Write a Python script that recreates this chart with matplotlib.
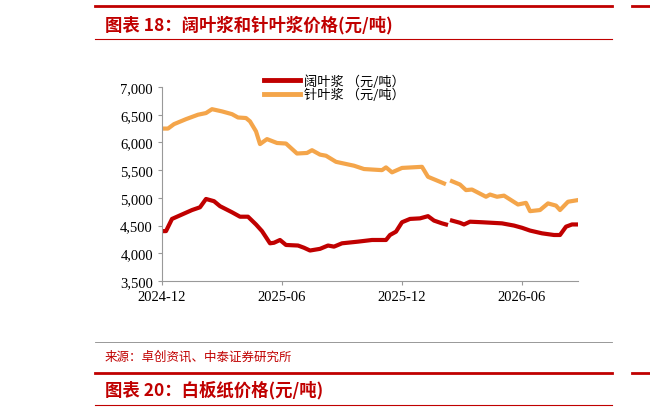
import numpy as np
import matplotlib.pyplot as plt
from matplotlib.lines import Line2D

plt.rcParams['font.family'] = ['Noto Sans CJK SC', 'DejaVu Sans']

# 月份偏移 (0 = 2024-12) 与价格
hw1_x = [0, 0.2, 0.5, 1.0, 1.5, 1.9, 2.2, 2.6, 2.9, 3.5, 3.9, 4.3, 4.7, 5.0, 5.4, 5.6, 5.9, 6.2, 6.8, 7.1,
         7.4, 7.9, 8.3, 8.6, 9.0, 9.8, 10.5, 11.2, 11.4, 11.7, 12.0, 12.4, 12.9, 13.3, 13.6, 14.0, 14.2]
hw1_y = [4400, 4400, 4620, 4700, 4780, 4830, 4980, 4940, 4850, 4740, 4660, 4660, 4520, 4400, 4180, 4190, 4240, 4150, 4140, 4100,
         4050, 4080, 4140, 4120, 4180, 4210, 4240, 4240, 4330, 4390, 4560, 4620, 4630, 4670, 4590, 4540, 4520]
hw2_x = [14.5, 14.9, 15.1, 15.4, 16.0, 17.0, 17.6, 18.0, 18.4, 19.0, 19.6, 19.9, 20.2, 20.5, 20.8]
hw2_y = [4590, 4550, 4520, 4570, 4560, 4540, 4500, 4460, 4410, 4360, 4330, 4330, 4480, 4520, 4520]

sw1_x = [0, 0.3, 0.6, 1.2, 1.8, 2.2, 2.5, 3.0, 3.5, 3.8, 4.2, 4.4, 4.7, 4.9, 5.25, 5.75, 6.2, 6.75, 7.25, 7.5,
         7.9, 8.2, 8.7, 9.6, 10.1, 11.0, 11.2, 11.5, 12.0, 12.5, 13.0, 13.3, 14.1]
sw1_y = [6250, 6250, 6330, 6420, 6500, 6530, 6600, 6560, 6510, 6450, 6440, 6380, 6200, 5970, 6060, 5990, 5980, 5800, 5810, 5860,
         5780, 5760, 5650, 5580, 5520, 5500, 5550, 5460, 5540, 5550, 5560, 5380, 5260]
sw2_x = [14.5, 14.9, 15.2, 15.5, 16.2, 16.4, 16.75, 17.1, 17.8, 18.2, 18.4, 18.9, 19.3, 19.7, 19.9, 20.3, 20.8]
sw2_y = [5300, 5240, 5140, 5150, 5020, 5060, 5020, 5040, 4880, 4910, 4760, 4780, 4900, 4860, 4780, 4930, 4960]

tick_pos = [0, 6, 12, 18]
tick_labels = ['2024-12', '2025-06', '2025-12', '2026-06']

red = '#C00000'
orange = '#F4A54A'

fig = plt.figure(figsize=(6.5, 4.14), dpi=100)
ax = fig.add_axes([162/650, 1 - 282/414, (578-162)/650, (282-88)/414])

ax.plot(hw1_x, hw1_y, color=red, lw=3)
ax.plot(hw2_x, hw2_y, color=red, lw=3)
ax.plot(sw1_x, sw1_y, color=orange, lw=3)
ax.plot(sw2_x, sw2_y, color=orange, lw=3)

ax.set_xlim(0, 20.8)
ax.set_ylim(3500, 7000)
ax.set_yticks(range(3500, 7001, 500))
ax.set_yticklabels([f'{v:,}' for v in range(3500, 7001, 500)], family='Liberation Serif', fontsize=10.5)
ax.set_xticks(tick_pos)
ax.set_xticklabels(tick_labels, family='Liberation Serif', fontsize=10.5)
for s in ['top', 'right']:
    ax.spines[s].set_visible(False)
ax.spines['left'].set_color('#999999')
ax.spines['bottom'].set_color('#999999')
ax.tick_params(length=3, color='#999999')

handles = [Line2D([], [], color=red, lw=3.5), Line2D([], [], color=orange, lw=3.5)]
leg = ax.legend(handles, ['阔叶浆 （元/吨）', '针叶浆 （元/吨）'], loc='upper left', bbox_to_anchor=(0.23, 1.1),
                frameon=False, fontsize=9.5, handlelength=2.7, labelspacing=0.0, borderpad=0, handletextpad=0.3)

# 报告版式
fig.add_artist(Line2D([95/650, 612/650], [1 - 7/414] * 2, color=red, lw=2))
fig.add_artist(Line2D([95/650, 612/650], [1 - 40/414] * 2, color=red, lw=0.8))
fig.text(105/650, 1 - 25/414, '图表 18：阔叶浆和针叶浆价格(元/吨)', color=red, fontsize=12.5,
         fontweight='bold', style='italic', va='center')
fig.add_artist(Line2D([95/650, 612/650], [1 - 343/414] * 2, color='#888888', lw=0.6))
fig.text(105/650, 1 - 357/414, '来源：卓创资讯、中泰证券研究所', color=red, fontsize=9, va='center')
fig.add_artist(Line2D([95/650, 612/650], [1 - 374/414] * 2, color=red, lw=2))
fig.add_artist(Line2D([95/650, 612/650], [1 - 406/414] * 2, color=red, lw=0.8))
fig.text(105/650, 1 - 390/414, '图表 20：白板纸价格(元/吨)', color=red, fontsize=12.5,
         fontweight='bold', style='italic', va='center')
fig.add_artist(Line2D([632/650, 1], [1 - 7/414] * 2, color=red, lw=2))
fig.add_artist(Line2D([632/650, 1], [1 - 374/414] * 2, color=red, lw=2))

fig.savefig('out.png', dpi=100)
